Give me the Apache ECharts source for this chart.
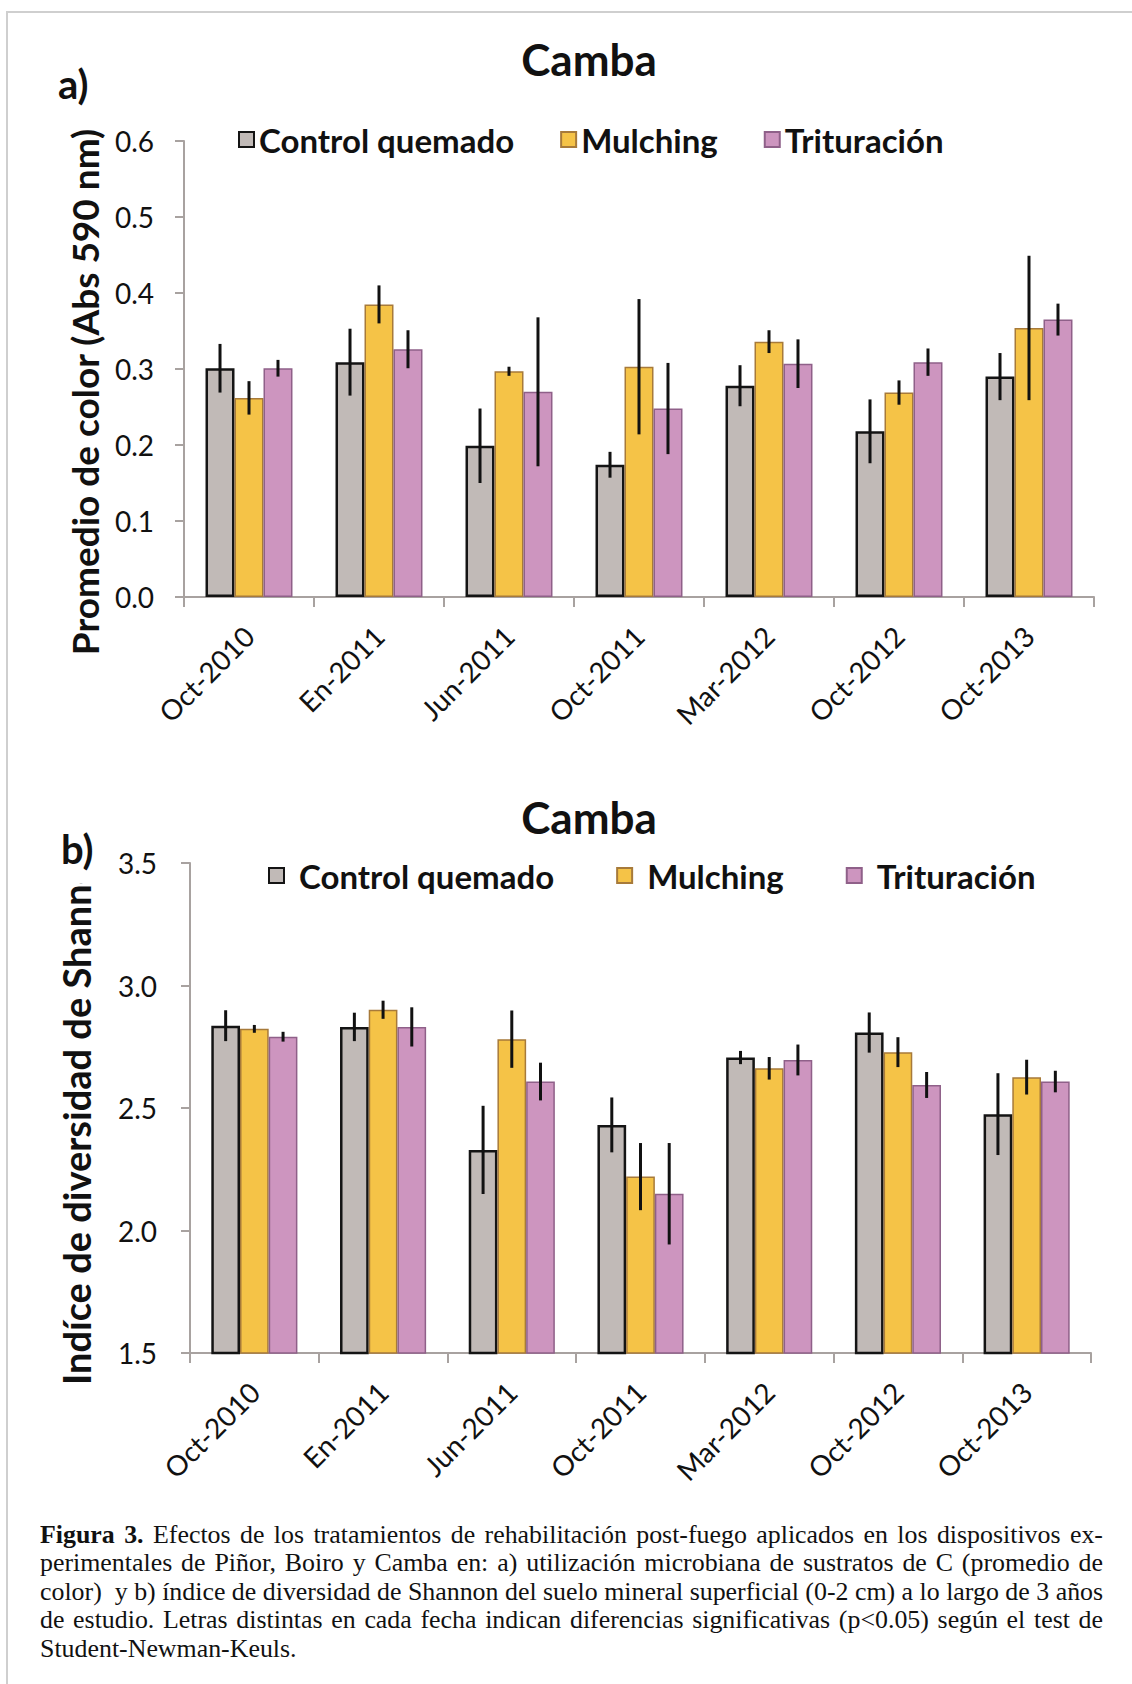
<!DOCTYPE html>
<html>
<head>
<meta charset="utf-8">
<script src="https://cdn.jsdelivr.net/npm/echarts@6/dist/echarts.min.js"></script>
<style>
  html, body { margin:0; padding:0; background:#fff; }
  #frame { position:absolute; left:6px; top:11px; width:1200px; height:1800px; border-left:2px solid #cfcfcf; border-top:2px solid #cfcfcf; }
  #chart { position:absolute; left:0; top:0; width:1132px; height:1684px; }
  #caption { position:absolute; left:40px; top:1521px; width:1063px; font-family:"Liberation Serif","Times New Roman",serif; font-size:26px; line-height:28.4px; color:#111; }
  #caption .ln { white-space:nowrap; transform-origin:0 0; }
</style>
</head>
<body>
<div id="frame"></div>
<div id="chart"></div>
<div id="caption">
  <div class="ln"><b>Figura 3.</b> Efectos de los tratamientos de rehabilitación post-fuego aplicados en los dispositivos ex-</div>
  <div class="ln">perimentales de Piñor, Boiro y Camba en: a) utilización microbiana de sustratos de C (promedio de</div>
  <div class="ln">color)&nbsp; y b) índice de diversidad de Shannon del suelo mineral superficial (0-2 cm) a lo largo de 3 años</div>
  <div class="ln">de estudio. Letras distintas en cada fecha indican diferencias significativas (p&lt;0.05) según el test de</div>
  <div class="ln last">Student-Newman-Keuls.</div>
</div>
<script>
// ---- data ----
var categories = ['Oct-2010','En-2011','Jun-2011','Oct-2011','Mar-2012','Oct-2012','Oct-2013'];
var seriesNames = ['Control quemado','Mulching','Trituración'];

// a) Promedio de color (Abs 590 nm)
var colorControl      = [0.301, 0.309, 0.199, 0.174, 0.278, 0.218, 0.290];
var colorControlErr   = [0.032, 0.044, 0.049, 0.017, 0.027, 0.042, 0.031];
var colorMulching     = [0.262, 0.385, 0.297, 0.303, 0.336, 0.269, 0.354];
var colorMulchingErr  = [0.022, 0.025, 0.006, 0.089, 0.015, 0.016, 0.095];
var colorTritur       = [0.301, 0.326, 0.270, 0.248, 0.307, 0.309, 0.365];
var colorTriturErr    = [0.011, 0.025, 0.098, 0.060, 0.032, 0.018, 0.021];

// b) Indice de diversidad de Shannon
var shannonControl     = [2.836, 2.831, 2.329, 2.431, 2.706, 2.808, 2.475];
var shannonControlErr  = [0.063, 0.058, 0.180, 0.112, 0.027, 0.082, 0.167];
var shannonMulching    = [2.823, 2.901, 2.781, 2.220, 2.662, 2.728, 2.626];
var shannonMulchingErr = [0.016, 0.037, 0.117, 0.137, 0.046, 0.061, 0.071];
var shannonTritur      = [2.791, 2.831, 2.608, 2.150, 2.696, 2.594, 2.608];
var shannonTriturErr   = [0.020, 0.080, 0.077, 0.207, 0.063, 0.053, 0.044];

var ticksA = { min: 0, max: 0.6, interval: 0.1 };
var ticksB = { min: 1.5, max: 3.5, interval: 0.5 };

// ---- styles ----
var FONT = 'Lato';
var BAR_FRAC = 0.223;
var fills   = ['#C1BAB7', '#F5C347', '#CD95BF'];
var borders = ['#141414', '#A77A3A', '#8F6089'];
var borderW = [2.5, 1.5, 1.5];
var axisGray = '#A8A2A0';

function errData(vals, errs) {
  return vals.map(function (v, i) { return [i, v - errs[i], v + errs[i]]; });
}
function errRenderer(k) {
  return function (params, api) {
    var ci = api.value(0);
    var lo = api.coord([ci, api.value(1)]);
    var hi = api.coord([ci, api.value(2)]);
    var bw = api.size([1, 0])[0];
    var dx = (k - 1) * bw * BAR_FRAC;
    return { type: 'line', shape: { x1: lo[0] + dx, y1: lo[1], x2: hi[0] + dx, y2: hi[1] },
             style: { stroke: '#111', lineWidth: 3 } };
  };
}

var groupA = [[colorControl, colorControlErr], [colorMulching, colorMulchingErr], [colorTritur, colorTriturErr]];
var groupB = [[shannonControl, shannonControlErr], [shannonMulching, shannonMulchingErr], [shannonTritur, shannonTriturErr]];

var series = [];
[groupA, groupB].forEach(function (grp, gi) {
  grp.forEach(function (pair, k) {
    series.push({
      name: seriesNames[k], type: 'bar', xAxisIndex: gi, yAxisIndex: gi,
      data: pair[0], barWidth: (BAR_FRAC * 100) + '%', barGap: '0%',
      itemStyle: { color: fills[k], borderColor: borders[k], borderWidth: borderW[k] },
      emphasis: { disabled: true }, animation: false
    });
  });
  grp.forEach(function (pair, k) {
    series.push({
      type: 'custom', xAxisIndex: gi, yAxisIndex: gi, z: 10,
      data: errData(pair[0], pair[1]), renderItem: errRenderer(k),
      encode: { x: 0, y: [1, 2] }, animation: false, silent: true
    });
  });
});

function xAxisCfg(gi) {
  return {
    type: 'category', gridIndex: gi, data: categories,
    axisLine: { lineStyle: { color: axisGray, width: 2 } },
    axisTick: { show: true, length: 10, lineStyle: { color: axisGray, width: 2 } },
    axisLabel: { rotate: 45, fontFamily: FONT, fontSize: 28, color: '#111', margin: 34 }
  };
}
function yAxisCfg(gi, t, margin) {
  return {
    type: 'value', gridIndex: gi, min: t.min, max: t.max, interval: t.interval,
    splitLine: { show: false },
    axisLine: { show: true, lineStyle: { color: axisGray, width: 2 } },
    axisTick: { show: true, length: 9, lineStyle: { color: axisGray, width: 2 } },
    axisLabel: { fontFamily: FONT, fontSize: 28, color: '#111', margin: margin,
                 formatter: function (v) { return v.toFixed(1); } }
  };
}

function legendCfg(left, top, gap, pad) {
  return {
    data: seriesNames, icon: 'rect', itemWidth: 15, itemHeight: 15, selectedMode: false,
    left: left, top: top, itemGap: gap,
    textStyle: { fontFamily: FONT, fontSize: 33, fontWeight: 'bold', color: '#111', padding: [0, 0, 0, pad] }
  };
}

var option = {
  animation: false,
  title: [
    { text: 'Camba', left: 584, top: 32, textAlign: 'center',
      textStyle: { fontFamily: FONT, fontSize: 44, fontWeight: 'bold', color: '#111' } },
    { text: 'Camba', left: 584, top: 790, textAlign: 'center',
      textStyle: { fontFamily: FONT, fontSize: 44, fontWeight: 'bold', color: '#111' } }
  ],
  legend: [ legendCfg(233, 118, 46, 0), legendCfg(263, 854, 62, 10) ],
  grid: [
    { left: 184, top: 141, width: 910, height: 456 },
    { left: 190, top: 863, width: 901, height: 490 }
  ],
  xAxis: [xAxisCfg(0), xAxisCfg(1)],
  yAxis: [yAxisCfg(0, ticksA, 30), yAxisCfg(1, ticksB, 33)],
  series: series,
  graphic: [
    { type: 'text', x: 84, y: 392, rotation: Math.PI / 2, z: 5,
      style: { text: 'Promedio de color (Abs 590 nm)', font: 'bold 37px Lato', fill: '#111',
               textAlign: 'center', align: 'center', textVerticalAlign: 'middle', verticalAlign: 'middle' } },
    { type: 'text', x: 76, y: 1385, rotation: Math.PI / 2, z: 5,
      style: { text: 'Indíce de diversidad de Shannon', font: 'bold 38px Lato', fill: '#111',
               textAlign: 'left', align: 'left', textVerticalAlign: 'middle', verticalAlign: 'middle' } },
    { type: 'rect', shape: { x: 40, y: 815, width: 75, height: 68 }, z: 6,
      style: { fill: '#fff' } },
    { type: 'text', x: 58, y: 84, z: 7,
      style: { text: 'a)', font: 'bold 40px Lato', fill: '#111',
               textVerticalAlign: 'middle', verticalAlign: 'middle' } },
    { type: 'text', x: 61, y: 849, z: 7,
      style: { text: 'b)', font: 'bold 40px Lato', fill: '#111',
               textVerticalAlign: 'middle', verticalAlign: 'middle' } }
  ]
};

var chart = echarts.init(document.getElementById('chart'), null, { renderer: 'svg' });
chart.setOption(option);

// caption: condense glyphs horizontally and justify every line but the last
(function () {
  var W = 1063, lines = document.querySelectorAll('#caption .ln');
  var maxW = 0;
  lines.forEach(function (ln) { maxW = Math.max(maxW, ln.scrollWidth); });
  var s = Math.min(1, W / maxW);
  lines.forEach(function (ln) {
    ln.style.width = (W / s) + 'px';
    ln.style.transform = 'scaleX(' + s + ')';
    if (!ln.classList.contains('last')) {
      ln.style.textAlign = 'justify';
      ln.style.textAlignLast = 'justify';
    }
  });
})();
</script>
</body>
</html>
